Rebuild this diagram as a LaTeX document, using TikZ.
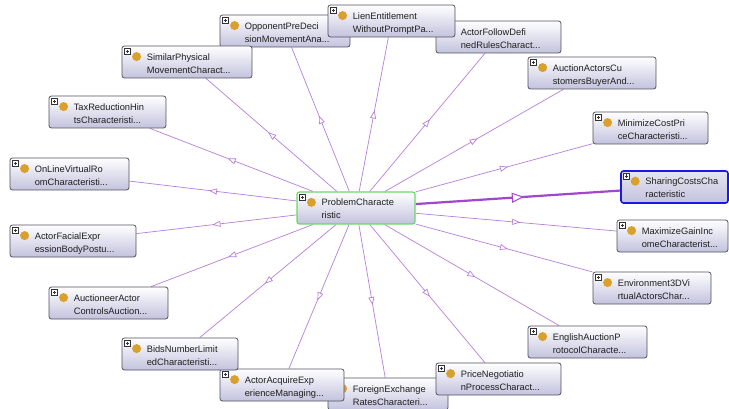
\documentclass[tikz,border=0pt]{standalone}
\usepackage{fontspec}
\setmainfont{Liberation Sans}
\usetikzlibrary{arrows.meta,decorations.markings,calc,backgrounds}
\definecolor{edgecol}{HTML}{B77FD9}
\definecolor{seledge}{HTML}{A346CF}
\definecolor{boxbot}{HTML}{C2C2DE}
\definecolor{seltop}{HTML}{E6E6F0}
\definecolor{boxline}{HTML}{505060}
\definecolor{dotcol}{HTML}{D9A12B}
\definecolor{textcol}{HTML}{202020}
\definecolor{selblue}{HTML}{1A1AE6}
\definecolor{centgreen}{HTML}{6CD66C}
\tikzset{
  obox/.style={rectangle, draw=boxline, line width=0.8pt, rounded corners=2.5pt,
    top color=white, bottom color=boxbot, minimum height=32pt, inner sep=0pt},
  selbox/.style={draw=selblue, line width=1.6pt, top color=seltop, bottom color=boxbot},
  centbox/.style={draw=centgreen, line width=1.2pt},
  plusbox/.style={draw=black!80, line width=0.5pt, fill=white},
  otext/.style={anchor=base west, inner sep=0pt, text=textcol, font=\fontsize{9.3pt}{11pt}\selectfont},
  edge/.style={draw=edgecol, line width=0.7pt, postaction={decorate},
    decoration={markings, mark=at position 0.5 with {\arrow[xshift=4pt]{Triangle[open, length=8pt, width=6pt, fill=white]}}}},
  seledgestyle/.style={draw=seledge, line width=2.2pt, postaction={decorate},
    decoration={markings, mark=at position 0.5 with {\arrow[xshift=6pt]{Triangle[open, length=12pt, width=10pt, line width=1pt, fill=white]}}}}
}
\newcommand\ontobox[7][]{%
  \node[obox,#1,minimum width=#5] (#2) at ({#3+#5/2},{#4+16}) {};
  \draw[plusbox] ($(#2.north west)+(3,3)$) rectangle ++(6,6);
  \draw[black!80, line width=0.5pt] ($(#2.north west)+(4.3,6)$) -- ++(3.4,0) ($(#2.north west)+(6,4.3)$) -- ++(0,3.4);
  \fill[dotcol] ($(#2.north west)+(15,11)$) circle (4.5);
  \node[otext] at ($(#2.north west)+(25,14.5)$) {#6};
  \node[otext] at ($(#2.north west)+(25,27.5)$) {#7};
}
\begin{document}
\begin{tikzpicture}[x=1pt,y=-1pt]
\path[use as bounding box, clip] (0,0) rectangle (729,409);
% outer boxes
\ontobox{afd}{436}{21}{125}{ActorFollowDefi}{nedRulesCharact...}
\ontobox{opp}{220}{15}{130}{OpponentPreDeci}{sionMovementAna...}
\ontobox{lien}{328}{5}{127}{LienEntitlement}{WithoutPromptPa...}
\ontobox{spm}{122}{46}{130}{SimilarPhysical}{MovementCharact...}
\ontobox{aac}{528}{57}{128}{AuctionActorsCu}{stomersBuyerAnd...}
\ontobox{mcp}{593}{112}{115}{MinimizeCostPri}{ceCharacteristi...}
\ontobox[selbox]{scc}{621}{171}{107}{SharingCostsCha}{racteristic}
\ontobox{mgi}{617}{220}{111}{MaximizeGainInc}{omeCharacterist...}
\ontobox{env}{593}{272}{118}{Environment3DVi}{rtualActorsChar...}
\ontobox{eap}{528}{326}{119}{EnglishAuctionP}{rotocolCharacte...}
\ontobox{fer}{328}{378}{120}{ForeignExchange}{RatesCharacteri...}
\ontobox{pnp}{436}{363}{125}{PriceNegotiatio}{nProcessCharact...}
\ontobox{aae}{220}{369}{124}{ActorAcquireExp}{erienceManaging...}
\ontobox{bnl}{122}{338}{116}{BidsNumberLimit}{edCharacteristi...}
\ontobox{auc}{49}{287}{119}{AuctioneerActor}{ControlsAuction...}
\ontobox{afe}{10}{225}{126}{ActorFacialExpr}{essionBodyPostu...}
\ontobox{olv}{10}{158}{119}{OnLineVirtualRo}{omCharacteristi...}
\ontobox{trh}{49}{96}{117}{TaxReductionHin}{tsCharacteristi...}
% centre
\ontobox[centbox]{pc}{297}{192}{118}{ProblemCharacte}{ristic}
\begin{scope}[on background layer]
  \fill[white] (0,0) rectangle (729,409);
  \foreach \n in {afd,opp,lien,spm,aac,mcp,mgi,env,eap,fer,pnp,aae,bnl,auc,afe,olv,trh}
    \draw[edge] (pc) -- (\n);
  \draw[seledgestyle] (pc) -- (scc);
\end{scope}
\end{tikzpicture}
\end{document}
